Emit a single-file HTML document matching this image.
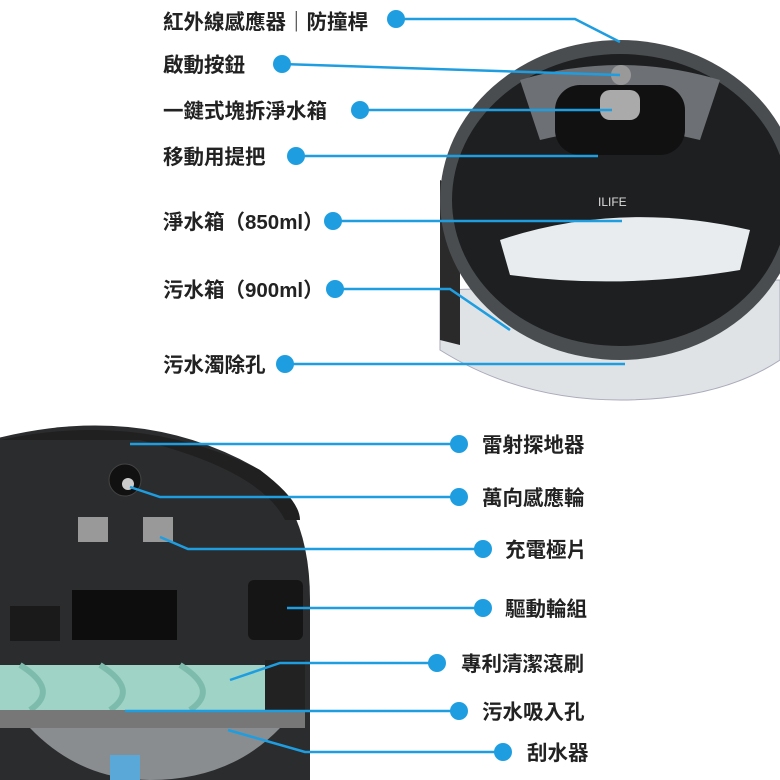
<!DOCTYPE html>
<html><head><meta charset="utf-8"><style>
html,body{margin:0;padding:0;background:#fff;width:780px;height:780px;overflow:hidden}
svg text{font-family:"Liberation Sans","Noto Sans CJK TC",sans-serif;font-size:20.5px;font-weight:bold;fill:#222}
</style></head><body>
<svg width="780" height="780" viewBox="0 0 780 780">
<!-- top robot -->
<path d="M440 290 L440 350 Q520 400 620 400 Q720 400 780 360 L780 280 Z" fill="#dfe3e6" stroke="#aab" stroke-width="1"/>
<path d="M440 180 L440 340 L460 345 L460 190 Z" fill="#2a2a2a"/>
<ellipse cx="620" cy="200" rx="180" ry="160" fill="#4a4d50"/>
<ellipse cx="620" cy="200" rx="168" ry="146" fill="#1e1f21"/>
<path d="M520 80 Q620 50 720 80 L700 140 Q620 120 540 140 Z" fill="#6d7074"/>
<rect x="555" y="85" width="130" height="70" rx="25" fill="#111"/>
<rect x="600" y="90" width="40" height="30" rx="10" fill="#aaa"/>
<circle cx="621" cy="75" r="10" fill="#999"/>
<path d="M500 240 Q620 200 750 230 L740 270 Q620 290 510 275 Z" fill="#e8ecef"/>
<text x="598" y="206" style="font-size:12px;fill:#ddd;font-weight:normal">ILIFE</text>
<!-- bottom robot -->
<path d="M-10 780 L-10 440 Q140 400 260 470 Q310 510 310 600 L310 780 Z" fill="#2b2c2e"/>
<path d="M0 440 Q140 410 260 470 Q300 500 300 520 L285 520 Q260 470 140 440 Z" fill="#202020"/>
<circle cx="125" cy="480" r="16" fill="#111" stroke="#444"/>
<circle cx="128" cy="484" r="6" fill="#ccc"/>
<rect x="78" y="517" width="30" height="25" fill="#999"/>
<rect x="143" y="517" width="30" height="25" fill="#999"/>
<rect x="72" y="590" width="105" height="50" fill="#0d0d0d"/>
<rect x="10" y="606" width="50" height="35" fill="#1a1a1a"/>
<rect x="248" y="580" width="55" height="60" rx="6" fill="#151515"/>
<rect x="0" y="665" width="265" height="45" fill="#9fd3c6"/>
<path d="M20 665 Q60 690 30 710 M100 665 Q140 690 110 710 M180 665 Q220 690 190 710" stroke="#7dbcac" stroke-width="6" fill="none"/>
<rect x="265" y="660" width="40" height="50" fill="#222"/>
<rect x="0" y="710" width="305" height="18" fill="#777"/>
<path d="M30 728 L280 728 Q230 780 150 780 Q80 780 30 728 Z" fill="#8a8d90"/>
<rect x="110" y="755" width="30" height="25" fill="#5aa8d8"/>
<!-- connectors -->
<g stroke="#1e9ee0" stroke-width="2.5" fill="none">
<polyline points="396,19 575,19 620,42"/>
<line x1="282" y1="64" x2="620" y2="75"/>
<line x1="360" y1="110" x2="612" y2="110"/>
<line x1="296" y1="156" x2="598" y2="156"/>
<line x1="333" y1="221" x2="622" y2="221"/>
<polyline points="335,289 450,289 510,330"/>
<line x1="285" y1="364" x2="625" y2="364"/>
<line x1="130" y1="444" x2="459" y2="444"/>
<polyline points="130,487 160,497 459,497"/>
<polyline points="160,537 188,549 483,549"/>
<line x1="287" y1="608" x2="483" y2="608"/>
<polyline points="230,680 280,663 437,663"/>
<line x1="125" y1="711" x2="459" y2="711"/>
<polyline points="228,730 305,752 503,752"/>
</g>
<g fill="#1e9ee0">
<circle cx="396" cy="19" r="9"/><circle cx="282" cy="64" r="9"/><circle cx="360" cy="110" r="9"/>
<circle cx="296" cy="156" r="9"/><circle cx="333" cy="221" r="9"/><circle cx="335" cy="289" r="9"/>
<circle cx="285" cy="364" r="9"/><circle cx="459" cy="444" r="9"/><circle cx="459" cy="497" r="9"/>
<circle cx="483" cy="549" r="9"/><circle cx="483" cy="608" r="9"/><circle cx="437" cy="663" r="9"/>
<circle cx="459" cy="711" r="9"/><circle cx="503" cy="752" r="9"/>
</g>
<text x="163" y="29">紅外線感應器｜防撞桿</text>
<text x="163" y="72">啟動按鈕</text>
<text x="163" y="118">一鍵式塊拆淨水箱</text>
<text x="163" y="164">移動用提把</text>
<text x="163" y="229">淨水箱（850ml）</text>
<text x="163" y="297">污水箱（900ml）</text>
<text x="163" y="372">污水濁除孔</text>
<text x="482" y="452">雷射探地器</text>
<text x="482" y="505">萬向感應輪</text>
<text x="505" y="557">充電極片</text>
<text x="505" y="616">驅動輪組</text>
<text x="461" y="671">專利清潔滾刷</text>
<text x="482" y="719">污水吸入孔</text>
<text x="527" y="760">刮水器</text>
</svg>
</body></html>
